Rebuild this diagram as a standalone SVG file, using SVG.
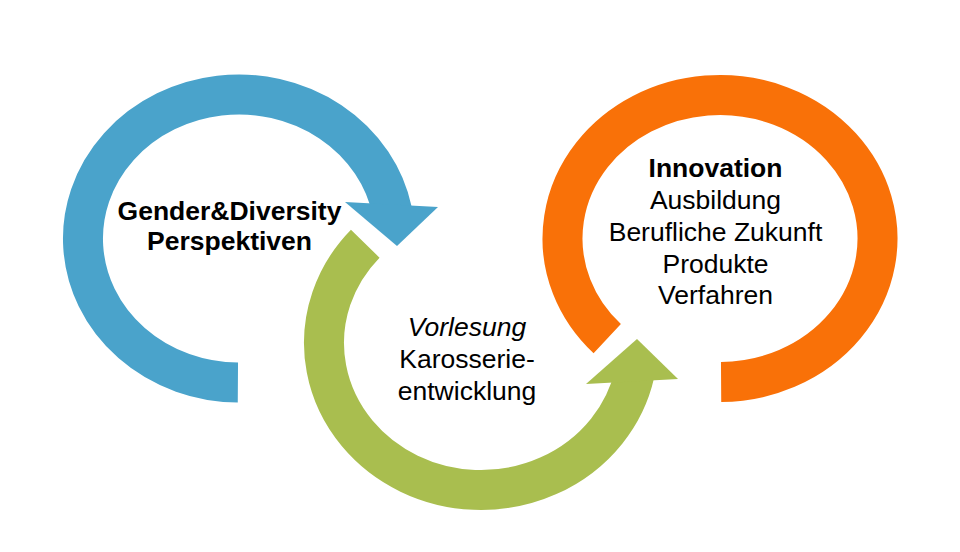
<svg xmlns="http://www.w3.org/2000/svg" width="960" height="552" viewBox="0 0 960 552">
  <style>
    .band { fill: none; stroke-width: 40; stroke-linecap: butt; }
    .blue { stroke: #4AA3CB; }
    .green { stroke: #A9BE4F; }
    .orange { stroke: #F97108; }
    text { font-family: "Liberation Sans", Arial, sans-serif; font-size: 26.5px; fill: #000; text-anchor: middle; }
    .b { font-weight: bold; }
    .i { font-style: italic; }
  </style>
  <rect width="960" height="552" fill="#ffffff"/>
  <g id="node-gender">
    <path class="band blue" d="M 237.9 382.5 A 156 144 0 1 1 392.1 211.0"/>
    <polygon points="345,202 438,207 397,246" fill="#4AA3CB"/>
    <text class="b" x="229.5" y="220">Gender&amp;Diversity</text>
    <text class="b" x="229.5" y="250">Perspektiven</text>
  </g>
  <g id="node-vorlesung">
    <path class="band green" d="M 365.25 243.69 A 157 147 0 1 0 634.57 373.56"/>
    <polygon points="586,384 637,339 678,379" fill="#A9BE4F"/>
    <text class="i" x="467" y="336">Vorlesung</text>
    <text x="467" y="368">Karosserie-</text>
    <text x="467" y="400">entwicklung</text>
  </g>
  <g id="node-innovation">
    <path class="band orange" d="M 607.24 338.69 A 157.5 143.5 0 1 1 721.1 382.0"/>
    <text class="b" x="715.5" y="177">Innovation</text>
    <text x="715.5" y="209">Ausbildung</text>
    <text x="715.5" y="241">Berufliche Zukunft</text>
    <text x="715.5" y="273">Produkte</text>
    <text x="715.5" y="304">Verfahren</text>
  </g>
  <g id="connectors"></g>
</svg>
